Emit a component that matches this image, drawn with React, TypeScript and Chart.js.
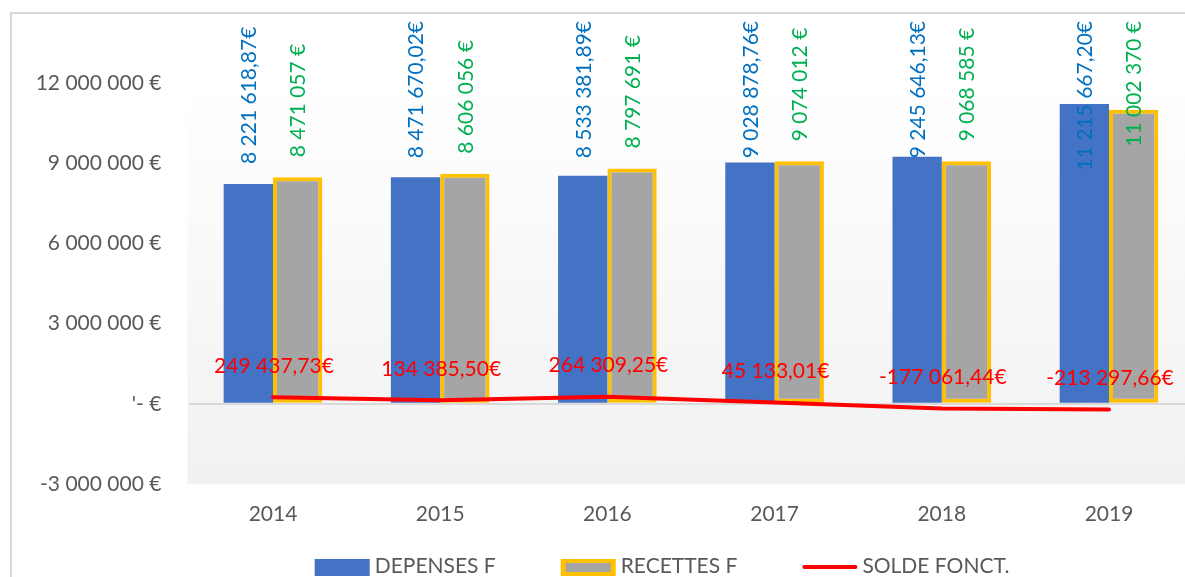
import React, { useEffect, useRef } from 'react';
import { Chart, registerables } from 'chart.js';

Chart.register(...registerables);

const years = ['2014', '2015', '2016', '2017', '2018', '2019'];
const depenses = [8221618.87, 8471670.02, 8533381.89, 9028878.76, 9245646.13, 11215667.2];
const recettes = [8471057, 8606056, 8797691, 9074012, 9068585, 11002370];
const solde = [249437.73, 134385.5, 264309.25, 45133.01, -177061.44, -213297.66];
const yMin = -3000000;
const yMax = 12000000;
const yStep = 3000000;
const seriesNames = ['DEPENSES F', 'RECETTES F', 'SOLDE FONCT.'];

const FONT = 'Lato, "Open Sans", sans-serif';
const FONT_SIZE = 21;

function groupDigits(n: number): string {
  return Math.abs(Math.trunc(n)).toString().replace(/\B(?=(\d{3})+(?!\d))/g, ' ');
}
function fmtDec(n: number): string {
  const abs = Math.abs(n);
  const cents = Math.round((abs - Math.trunc(abs)) * 100);
  return (n < 0 ? '-' : '') + groupDigits(abs) + ',' + String(cents).padStart(2, '0') + '€';
}
function fmtInt(n: number): string {
  return (n < 0 ? '-' : '') + groupDigits(Math.round(n)) + ' €';
}
function fmtTick(n: number): string {
  if (n === 0) return "'- €";
  return fmtInt(n);
}

const bgPlugin = {
  id: 'plotBg',
  beforeDraw(chart: any) {
    const { ctx, chartArea: a } = chart;
    if (!a) return;
    const g = ctx.createLinearGradient(0, a.top, 0, a.bottom);
    g.addColorStop(0, '#ffffff');
    g.addColorStop(1, '#f1f1f1');
    ctx.save();
    ctx.fillStyle = g;
    ctx.fillRect(a.left - 2, a.top, a.right - a.left + 2, a.bottom - a.top);
    ctx.restore();
  },
};

const labelPlugin = {
  id: 'valueLabels',
  afterDraw(chart: any) {
    const ctx = chart.ctx;
    ctx.save();
    ctx.font = `${FONT_SIZE}px ${FONT}`;
    const barSets = [
      { idx: 0, color: '#0070C0', values: depenses, fmt: fmtDec },
      { idx: 1, color: '#00B050', values: recettes, fmt: fmtInt },
    ];
    barSets.forEach((s) => {
      const meta = chart.getDatasetMeta(s.idx);
      meta.data.forEach((el: any, i: number) => {
        const text = s.fmt(s.values[i]);
        const w = ctx.measureText(text).width;
        const top = Math.max(21, el.y - 20 - w);
        const bottom = top + w;
        ctx.save();
        ctx.translate(el.x + 1, bottom);
        ctx.rotate(-Math.PI / 2);
        ctx.textAlign = 'left';
        ctx.textBaseline = 'middle';
        ctx.fillStyle = s.color;
        ctx.fillText(text, 0, 0);
        ctx.restore();
      });
    });
    const lineMeta = chart.getDatasetMeta(2);
    lineMeta.data.forEach((el: any, i: number) => {
      ctx.textAlign = 'center';
      ctx.textBaseline = 'middle';
      ctx.fillStyle = '#FF0000';
      ctx.fillText(fmtDec(solde[i]), el.x + 1, el.y - 31);
    });

    // legend
    const boxW = 55;
    const gap = 5;
    const between = 65;
    const widths = seriesNames.map((t) => ctx.measureText(t).width);
    const total = widths.reduce((s, w) => s + boxW + gap + w, 0) + between * 2;
    let x = 662 - total / 2;
    const cy = 567;
    seriesNames.forEach((name, i) => {
      if (i === 0) {
        ctx.fillStyle = '#4472C4';
        ctx.fillRect(x, 559, boxW, 17);
      } else if (i === 1) {
        ctx.fillStyle = '#FFC000';
        ctx.fillRect(x, 559, boxW, 17);
        ctx.fillStyle = '#A5A5A5';
        ctx.fillRect(x + 5, 563, boxW - 10, 9);
      } else {
        ctx.strokeStyle = '#FF0000';
        ctx.lineWidth = 4;
        ctx.lineCap = 'round';
        ctx.beginPath();
        ctx.moveTo(x + 2, cy);
        ctx.lineTo(x + boxW - 2, cy);
        ctx.stroke();
      }
      ctx.fillStyle = '#595959';
      ctx.textAlign = 'left';
      ctx.textBaseline = 'middle';
      ctx.fillText(name, x + boxW + gap, cy - 1);
      x += boxW + gap + widths[i] + between;
    });
    ctx.restore();
  },
};

export default function App() {
  const ref = useRef<HTMLCanvasElement | null>(null);

  useEffect(() => {
    let chart: Chart | null = null;
    let cancelled = false;
    const make = () => {
      if (cancelled || !ref.current) return;
      chart = new Chart(ref.current, {
        type: 'bar',
        data: {
          labels: years,
          datasets: [
            {
              type: 'bar',
              label: seriesNames[0],
              data: depenses,
              backgroundColor: '#4472C4',
              borderWidth: 0,
              categoryPercentage: 0.59,
              barPercentage: 1.0,
              order: 1,
            },
            {
              type: 'bar',
              label: seriesNames[1],
              data: recettes,
              backgroundColor: '#A5A5A5',
              borderColor: '#FFC000',
              borderWidth: 4,
              borderSkipped: false,
              categoryPercentage: 0.59,
              barPercentage: 1.0,
              order: 1,
            },
            {
              type: 'line',
              label: seriesNames[2],
              data: solde,
              borderColor: '#FF0000',
              borderWidth: 4,
              borderCapStyle: 'round',
              pointRadius: 0,
              tension: 0,
              fill: false,
              order: 0,
            } as any,
          ],
        },
        options: {
          responsive: false,
          animation: false,
          devicePixelRatio: 1,
          layout: { padding: { top: 83, right: 7.4, bottom: 0, left: 0 } },
          plugins: {
            legend: { display: false },
            tooltip: { enabled: false },
          },
          scales: {
            x: {
              grid: { display: false, drawTicks: false },
              border: { display: false },
              ticks: {
                color: '#595959',
                font: { family: FONT, size: FONT_SIZE },
                padding: 18,
                maxRotation: 0,
              },
              afterFit(scale: any) {
                scale.height = 93;
              },
            },
            y: {
              min: yMin,
              max: yMax,
              grid: {
                drawTicks: false,
                lineWidth: 2,
                color: (c: any) => (c.tick && c.tick.value === 0 ? '#d9d9d9' : 'rgba(0,0,0,0)'),
              },
              border: { display: false },
              ticks: {
                stepSize: yStep,
                color: '#595959',
                font: { family: FONT, size: FONT_SIZE },
                padding: 28,
                callback: (v: any) => fmtTick(Number(v)),
              },
              afterFit(scale: any) {
                scale.width = 189.4;
              },
            },
          },
        },
        plugins: [bgPlugin, labelPlugin],
      });
    };
    const fontsApi = (document as any).fonts;
    if (fontsApi && fontsApi.load) {
      Promise.all([fontsApi.load(`${FONT_SIZE}px Lato`)]).then(make, make);
    } else {
      make();
    }
    return () => {
      cancelled = true;
      if (chart) chart.destroy();
    };
  }, []);

  return (
    <div
      style={{
        position: 'fixed',
        left: 0,
        top: 0,
        width: 1185,
        height: 577,
        overflow: 'hidden',
        background: '#ffffff',
      }}
    >
      <div
        style={{
          position: 'absolute',
          left: 10,
          top: 12,
          width: 1400,
          height: 800,
          borderLeft: '2px solid #d9d9d9',
          borderTop: '2px solid #d9d9d9',
        }}
      />
      <canvas
        ref={ref}
        width={1200}
        height={577}
        style={{ position: 'absolute', left: 0, top: 0, width: 1200, height: 577 }}
      />
    </div>
  );
}
